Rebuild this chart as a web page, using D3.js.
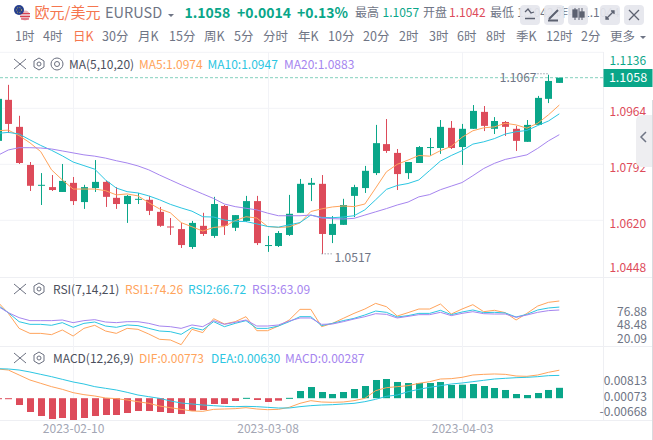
<!DOCTYPE html>
<html>
<head>
<meta charset="utf-8">
<script src="https://cdn.jsdelivr.net/npm/d3@7/dist/d3.min.js"></script>
<style>
  html, body { margin: 0; padding: 0; background: #fff; overflow: hidden; }
  text { font-family: "Noto Sans CJK SC", "Noto Sans", sans-serif; }
</style>
</head>
<body>
<div id="chart"></div>
<script>
// Daily EURUSD candles, first one is cut off by the left edge
const opens = [1.0864,1.0990,1.0907,1.0790,1.0729,1.0722,1.0707,1.0735,1.0676,1.0719,1.0738,1.0689,1.0670,1.0686,1.0683,1.0646,1.0601,1.0593,1.0538,1.0603,1.0572,1.0664,1.0597,1.0618,1.0679,1.0544,1.0541,1.0575,1.0643,1.0729,1.0732,1.0575,1.0606,1.0695,1.0719,1.0765,1.0854,1.0827,1.0765,1.0796,1.0845,1.0842,1.0904,1.0845,1.0901,1.0953,1.0901,1.0922,1.0901,1.0861,1.0913,1.0993,1.1042];
const highs = [1.0993,1.1036,1.0941,1.0799,1.0765,1.0759,1.0793,1.0753,1.0729,1.0805,1.0741,1.0722,1.0698,1.0704,1.0695,1.0661,1.0627,1.0612,1.0618,1.0643,1.0692,1.0667,1.0636,1.0695,1.0695,1.0572,1.0587,1.0698,1.0747,1.0750,1.0759,1.0633,1.0686,1.0729,1.0787,1.0913,1.0931,1.0839,1.0799,1.0848,1.0873,1.0928,1.0925,1.0916,1.0974,1.0971,1.0937,1.0925,1.0910,1.0928,1.1002,1.1067,1.1058];
const lows = [1.0864,1.0888,1.0793,1.0710,1.0667,1.0710,1.0707,1.0667,1.0655,1.0707,1.0661,1.0655,1.0612,1.0670,1.0636,1.0600,1.0575,1.0535,1.0532,1.0572,1.0566,1.0575,1.0587,1.0615,1.0544,1.0523,1.0538,1.0572,1.0643,1.0679,1.0517,1.0550,1.0606,1.0630,1.0704,1.0759,1.0827,1.0713,1.0747,1.0796,1.0818,1.0824,1.0839,1.0790,1.0901,1.0894,1.0885,1.0879,1.0833,1.0861,1.0913,1.0980,1.1042];
const closes = [1.0993,1.0916,1.0796,1.0726,1.0729,1.0713,1.0741,1.0679,1.0722,1.0738,1.0692,1.0670,1.0695,1.0686,1.0649,1.0603,1.0600,1.0544,1.0612,1.0578,1.0670,1.0603,1.0636,1.0679,1.0550,1.0544,1.0581,1.0640,1.0732,1.0735,1.0578,1.0609,1.0667,1.0722,1.0772,1.0857,1.0833,1.0762,1.0799,1.0845,1.0845,1.0907,1.0842,1.0901,1.0956,1.0910,1.0925,1.0907,1.0864,1.0913,1.0996,1.1048,1.1058];

const ma5 = [1.0895,1.0897,1.0880,1.0858,1.0831,1.0775,1.0744,1.0716,1.0716,1.0716,1.0711,1.0698,1.0701,1.0695,1.0674,1.0655,1.0643,1.0613,1.0600,1.0587,1.0598,1.0601,1.0619,1.0631,1.0627,1.0601,1.0598,1.0600,1.0612,1.0647,1.0655,1.0661,1.0664,1.0662,1.0670,1.0719,1.0769,1.0792,1.0805,1.0819,1.0817,1.0834,1.0847,1.0875,1.0895,1.0904,1.0907,1.0918,1.0913,1.0903,1.0918,1.0944,1.0974];
const ma10 = [1.0887,1.0890,1.0885,1.0867,1.0850,1.0835,1.0818,1.0799,1.0788,1.0777,1.0744,1.0719,1.0708,1.0704,1.0695,1.0683,1.0669,1.0658,1.0648,1.0631,1.0630,1.0621,1.0617,1.0616,1.0609,1.0601,1.0599,1.0606,1.0613,1.0636,1.0629,1.0628,1.0630,1.0634,1.0652,1.0683,1.0715,1.0727,1.0733,1.0744,1.0773,1.0802,1.0819,1.0834,1.0854,1.0861,1.0871,1.0885,1.0892,1.0896,1.0911,1.0925,1.0947];
const ma20 = [1.0819,1.0836,1.0843,1.0843,1.0842,1.0839,1.0833,1.0827,1.0821,1.0817,1.0811,1.0803,1.0796,1.0787,1.0775,1.0759,1.0744,1.0729,1.0715,1.0701,1.0687,1.0670,1.0662,1.0657,1.0652,1.0642,1.0634,1.0634,1.0634,1.0636,1.0627,1.0625,1.0624,1.0626,1.0636,1.0646,1.0656,1.0667,1.0676,1.0692,1.0699,1.0714,1.0725,1.0736,1.0757,1.0779,1.0795,1.0807,1.0814,1.0821,1.0841,1.0864,1.0883];

const rsi1 = [73.4,59.0,40.3,34.1,34.1,32.5,38.3,30.8,40.3,44.1,37.0,34.1,40.3,39.1,33.3,26.7,25.9,20.1,39.1,35.0,52.3,45.7,48.6,54.8,37.4,37.4,43.2,50.7,63.9,63.9,42.4,46.5,52.7,58.9,64.3,71.3,67.2,55.6,59.8,64.3,64.3,70.5,58.1,64.3,69.7,61.0,62.7,59.8,50.7,58.9,68.0,72.6,74.26];
const rsi2 = [69.3,59.8,48.6,45.3,45.3,44.1,47.4,41.6,46.5,48.2,43.2,41.6,44.5,43.7,40.3,37.0,36.2,32.9,41.2,38.3,48.6,42.4,46.5,49.9,40.3,40.3,43.2,48.6,54.8,54.8,43.7,46.5,49.9,52.7,56.9,61.8,60.2,54.4,56.1,58.9,58.9,62.7,57.3,60.6,63.1,59.8,60.2,59.4,54.4,57.7,63.1,65.6,66.72];
const rsi3 = [68.0,59.8,53.6,49.9,49.9,49.9,50.7,47.4,49.9,51.1,48.2,47.4,48.6,48.6,46.5,43.2,42.4,40.3,44.5,42.4,49.9,45.3,47.8,50.7,43.2,43.2,44.5,49.4,53.2,53.2,45.3,45.7,48.6,51.9,54.8,58.5,57.7,53.2,55.2,57.3,57.3,60.2,56.1,58.9,61.0,58.5,58.1,58.1,54.0,56.9,60.2,62.3,63.09];

const dif = [0.00807,0.00779,0.00641,0.00503,0.00411,0.00319,0.00245,0.00153,0.00098,0.00061,0.00006,-0.00013,-0.00050,-0.00096,-0.00142,-0.00216,-0.00262,-0.00308,-0.00354,-0.00363,-0.00308,-0.00298,-0.00289,-0.00262,-0.00298,-0.00317,-0.00308,-0.00252,-0.00142,-0.00068,-0.00105,-0.00114,-0.00105,-0.00068,-0.00004,0.00208,0.00291,0.00319,0.00346,0.00411,0.00457,0.00530,0.00540,0.00577,0.00641,0.00659,0.00669,0.00659,0.00613,0.00604,0.00641,0.00715,0.00773];
const dea = [0.00816,0.00807,0.00779,0.00724,0.00659,0.00595,0.00521,0.00448,0.00392,0.00319,0.00273,0.00227,0.00162,0.00088,0.00042,-0.00004,-0.00077,-0.00133,-0.00160,-0.00188,-0.00206,-0.00225,-0.00234,-0.00225,-0.00234,-0.00252,-0.00271,-0.00271,-0.00234,-0.00206,-0.00188,-0.00179,-0.00160,-0.00142,-0.00096,-0.00031,0.00052,0.00088,0.00180,0.00245,0.00300,0.00346,0.00392,0.00420,0.00457,0.00494,0.00530,0.00549,0.00567,0.00577,0.00595,0.00623,0.00630];
const macd = [-0.00010,-0.00013,-0.00188,-0.00381,-0.00492,-0.00575,-0.00547,-0.00602,-0.00547,-0.00492,-0.00464,-0.00464,-0.00409,-0.00354,-0.00354,-0.00381,-0.00409,-0.00437,-0.00354,-0.00326,-0.00160,-0.00160,-0.00077,0.00010,-0.00050,-0.00105,-0.00068,0.00010,0.00199,0.00309,0.00171,0.00116,0.00171,0.00254,0.00337,0.00503,0.00530,0.00448,0.00420,0.00420,0.00420,0.00448,0.00365,0.00374,0.00392,0.00337,0.00282,0.00227,0.00116,0.00088,0.00144,0.00227,0.00287];

// Axis labels
const priceTicks = [1.1136, 1.0964, 1.0792, 1.0620, 1.0448];
const xTicks = [7, 25, 43];
const xTickLabels = ["2023-02-10", "2023-03-08", "2023-04-03"];
const rsiLabels = ["76.88", "48.48", "20.09"];
const macdLabels = ["0.00813", "0.00073", "-0.00668"];
const tabs = ["1时","4时","日K","30分","月K","15分","周K","5分","分时","年K","10分","20分","2时","3时","6时","8时","季K","12时","2分","更多"];
const tabX = [15,43,73,102,138,169,204,234,263,298,328,363,399,429,457,486,516,546,581,610];

const lastPrice = 1.1058, highestPrice = 1.1067, lowestPrice = 1.0517;

const width = 653, height = 440;
const red = "#dd4b5a", green = "#0aa689", orange = "#ffa45c", cyan = "#2cc6e2", purple = "#a685ef";
const grey = "#6f7585", gridColor = "#f2f3f7";
const axisRight = 603.5;

const svg = d3.select("#chart").append("svg")
    .attr("width", width)
    .attr("height", height)
    .style("display", "block");

// Scales
const x = d3.scaleLinear().domain([0, 52]).range([-2.5, 559.3]);
const yPrice = d3.scaleLinear().domain([1.1136, 1.0448]).range([52.3, 276.3]);
const yRsi = d3.scaleLinear().domain([100, 0]).range([280.26, 360.84]);
const yMacd = d3.scaleLinear().domain([0.008, -0.008]).range([369.24, 427.16]);

const idx = d3.range(opens.length);

// Grid
const grid = svg.append("g").attr("stroke", gridColor).attr("fill", "none");
priceTicks.slice(0, 4).forEach(p => {
    grid.append("line").attr("x1", 0).attr("x2", axisRight).attr("y1", yPrice(p)).attr("y2", yPrice(p));
});
[277.5, 346.5, 420.5].forEach(y => {
    grid.append("line").attr("x1", 0).attr("x2", 653).attr("y1", y).attr("y2", y).attr("stroke", "#eeeff3");
});
xTicks.forEach(t => {
    const px = Math.round(x(t)) + 0.5;
    grid.append("line").attr("x1", px).attr("x2", px).attr("y1", 52).attr("y2", 420);
});
svg.append("line").attr("x1", axisRight).attr("x2", axisRight).attr("y1", 52).attr("y2", 420).attr("stroke", "#eeeff3");
svg.append("line").attr("x1", 652.5).attr("x2", 652.5).attr("y1", 100).attr("y2", 440).attr("stroke", "#d9dade");

// Last price dashed line
svg.append("line")
    .attr("x1", 0).attr("x2", axisRight)
    .attr("y1", yPrice(lastPrice)).attr("y2", yPrice(lastPrice))
    .attr("stroke", "#84d0bd")
    .attr("stroke-dasharray", "3,2");

// Candles
const candles = svg.append("g").selectAll("g").data(idx).enter().append("g");
candles.append("line")
    .attr("x1", i => Math.round(x(i)) + 0.5)
    .attr("x2", i => Math.round(x(i)) + 0.5)
    .attr("y1", i => yPrice(highs[i]))
    .attr("y2", i => yPrice(lows[i]))
    .attr("stroke", i => closes[i] >= opens[i] ? green : red);
candles.append("rect")
    .attr("x", i => Math.round(x(i)) - 3)
    .attr("width", 7)
    .attr("y", i => yPrice(Math.max(opens[i], closes[i])))
    .attr("height", i => Math.max(1, Math.abs(yPrice(opens[i]) - yPrice(closes[i]))))
    .attr("fill", i => closes[i] >= opens[i] ? green : red);

function drawLine(values, yScale, color) {
    const line = d3.line().x((d, i) => x(i)).y(d => yScale(d));
    svg.append("path")
        .attr("d", line(values))
        .attr("fill", "none")
        .attr("stroke", color)
        .attr("stroke-width", 1);
}

// MA lines
drawLine(ma5, yPrice, orange);
drawLine(ma10, yPrice, cyan);
drawLine(ma20, yPrice, purple);

// RSI
drawLine(rsi1, yRsi, orange);
drawLine(rsi2, yRsi, cyan);
drawLine(rsi3, yRsi, purple);

// MACD bars, near zero ones come out as little dashes
svg.append("g").selectAll("rect").data(idx).enter().append("rect")
    .attr("x", i => Math.round(x(i)) - 3)
    .attr("width", 7)
    .attr("y", i => Math.min(yMacd(macd[i]), yMacd(0)))
    .attr("height", i => Math.max(1, Math.abs(yMacd(macd[i]) - yMacd(0))))
    .attr("fill", i => macd[i] >= 0 ? green : red);
drawLine(dif, yMacd, orange);
drawLine(dea, yMacd, cyan);

// Highest and lowest markers
function extremeLabel(i, price, text, dy) {
    const px = x(i), py = yPrice(price) + dy;
    const toLeft = i > 40;
    svg.append("line")
        .attr("x1", px + (toLeft ? -11 : 0)).attr("x2", px + (toLeft ? 0 : 11))
        .attr("y1", py).attr("y2", py)
        .attr("stroke", grey).attr("stroke-dasharray", "1,2");
    svg.append("text")
        .attr("x", px + (toLeft ? -12 : 13))
        .attr("y", py + 8)
        .attr("text-anchor", toLeft ? "end" : "start")
        .attr("font-size", 12)
        .attr("fill", grey)
        .text(text);
}
extremeLabel(51, highestPrice, highestPrice.toFixed(4), -1);
extremeLabel(30, lowestPrice, lowestPrice.toFixed(4), 0);

// Price axis, labels sit a bit off the grid lines like the original
const priceNudge = [8, 3, 3, 3.5, -9];
const priceAxis = svg.append("g")
    .attr("transform", `translate(${axisRight + 6},0)`)
    .call(d3.axisRight(yPrice).tickValues(priceTicks).tickSize(0).tickPadding(0).tickFormat(d3.format(".4f")));
priceAxis.select(".domain").remove();
priceAxis.selectAll("text")
    .attr("dy", (d, i) => priceNudge[i] + 4)
    .attr("font-size", 12)
    .attr("font-family", '"Noto Sans CJK SC"')
    .attr("fill", d => d > lastPrice ? green : red);

// Last price box
svg.append("rect").attr("x", axisRight).attr("y", 69).attr("width", 49).attr("height", 18).attr("fill", green);
svg.append("text").attr("x", 628).attr("y", yPrice(lastPrice) + 4.5).attr("text-anchor", "middle")
    .attr("font-size", 12.5).attr("fill", "#fff").text(lastPrice.toFixed(4));

// RSI and MACD axis labels
const labelY = { rsi: [316, 329, 343], macd: [385, 400.5, 416] };
rsiLabels.forEach((t, i) => {
    svg.append("text").attr("x", 647).attr("y", labelY.rsi[i]).attr("text-anchor", "end")
        .attr("font-size", 12).attr("fill", grey).text(t);
});
macdLabels.forEach((t, i) => {
    svg.append("text").attr("x", 647).attr("y", labelY.macd[i]).attr("text-anchor", "end")
        .attr("font-size", 12).attr("fill", grey).text(t);
});

// X axis
const xAxis = svg.append("g")
    .attr("transform", "translate(0,424)")
    .call(d3.axisBottom(x).tickValues(xTicks).tickSize(0).tickPadding(0).tickFormat((d, i) => xTickLabels[i]));
xAxis.select(".domain").remove();
xAxis.selectAll("text")
    .attr("font-size", 12)
    .attr("font-family", '"Noto Sans CJK SC"')
    .attr("fill", "#a3a6b4");

// Side handle
svg.append("path")
    .attr("d", "M652,115 H642 Q636,115 636,121 V162 Q636,165 641,167 H652 Z")
    .attr("fill", "#eeeef1");
svg.append("path")
    .attr("d", "M646,132 L641,137 L646,142")
    .attr("fill", "none").attr("stroke", "#6f7585").attr("stroke-width", 1.5);

// Helpers for the legend rows
function addText(x0, y0, text, color, size, weight) {
    return svg.append("text")
        .attr("x", x0).attr("y", y0)
        .attr("font-size", size)
        .attr("font-weight", weight || 400)
        .attr("fill", color)
        .text(text);
}
function legendIcons(y0, withEye) {
    const g = svg.append("g").attr("fill", "none").attr("stroke", "#6b7080");
    g.append("path").attr("d", `M14,${y0 - 5} L26,${y0 + 5} M26,${y0 - 5} L14,${y0 + 5}`);
    const cx = 39;
    g.append("path").attr("d", `M${cx},${y0 - 6} L${cx + 5},${y0 - 3} V${y0 + 3} L${cx},${y0 + 6} L${cx - 5},${y0 + 3} V${y0 - 3} Z`);
    g.append("circle").attr("cx", cx).attr("cy", y0).attr("r", 2);
    if (withEye) {
        g.append("circle").attr("cx", 57).attr("cy", y0).attr("r", 6);
        g.append("circle").attr("cx", 57).attr("cy", y0).attr("r", 2.5);
    }
}

// Legend rows
legendIcons(64, true);
addText(69, 68.5, "MA(5,10,20)", "#4b4f5c", 12);
addText(139, 68.5, "MA5:1.0974", orange, 12);
addText(207.5, 68.5, "MA10:1.0947", cyan, 12);
addText(284, 68.5, "MA20:1.0883", purple, 12);

legendIcons(289, false);
addText(53, 293.5, "RSI(7,14,21)", "#4b4f5c", 12);
addText(125, 293.5, "RSI1:74.26", orange, 12);
addText(188, 293.5, "RSI2:66.72", cyan, 12);
addText(252, 293.5, "RSI3:63.09", purple, 12);

legendIcons(358, false);
addText(53, 362.5, "MACD(12,26,9)", "#4b4f5c", 12);
addText(139, 362.5, "DIF:0.00773", orange, 12);
addText(211, 362.5, "DEA:0.00630", cyan, 12);
addText(285, 362.5, "MACD:0.00287", purple, 12);

// Tabs
tabs.forEach((t, i) => {
    addText(tabX[i], 41, t, t === "日K" ? "#f5764f" : "#6f7585", 12.5);
});
svg.append("path").attr("d", "M640,36 h6 l-3,3 Z").attr("fill", "#6f7585");

// Header
const flag = svg.append("g");
flag.append("circle").attr("cx", 25).attr("cy", 15.5).attr("r", 5).attr("fill", "#e9b8bf");
flag.append("path").attr("d", "M20,13.5 h10 M20,16.5 h10 M21,19 h8").attr("stroke", "#d8404f").attr("stroke-width", 1.2);
flag.append("circle").attr("cx", 19).attr("cy", 10).attr("r", 5).attr("fill", "#27408f");
flag.append("circle").attr("cx", 19).attr("cy", 10).attr("r", 2.6).attr("fill", "none").attr("stroke", "#c9b84a").attr("stroke-dasharray", "1,1.5");

addText(34.5, 17.5, "欧元/美元", "#f5764f", 15);
addText(105, 17.5, "EURUSD", "#6f7585", 14.5);
svg.append("path").attr("d", "M168,14 h6 l-3,3 Z").attr("fill", "#6f7585");
addText(184.5, 17.5, "1.1058", green, 14, 700);
addText(237, 17.5, "+0.0014", green, 14, 700);
addText(297, 17.5, "+0.13%", green, 14, 700);
addText(355, 16.5, "最高", grey, 12);
addText(382.5, 16.5, "1.1057", green, 12);
addText(423, 16.5, "开盘", grey, 12);
addText(449, 16.5, "1.1042", red, 12);
addText(490, 16.5, "最低", grey, 12);
addText(517, 16.5, "1.1042", grey, 12);
addText(556, 16.5, "昨收", grey, 12);
addText(583, 16.5, "1.1044", grey, 12);

// Toolbar buttons over the header
[520, 544, 568, 600, 624].forEach(bx => {
    svg.append("rect").attr("x", bx).attr("y", 5).attr("width", 20).attr("height", 20).attr("rx", 4)
        .attr("fill", "#e5e6ed").attr("fill-opacity", 0.93);
});
const tool = svg.append("g").attr("fill", "none").attr("stroke", "#5c6170").attr("stroke-width", 1.3);
tool.append("path").attr("d", "M525,12 L528,9 L531,13 L534,12 M525,18.5 H535");
tool.append("path").attr("d", "M549,19 L558,10 M548,20.5 H558").attr("stroke-width", 2);
tool.append("path").attr("d", "M575,8 V20 M579,8 V20 M582,8 V20").attr("stroke-width", 1);
tool.append("rect").attr("x", 573).attr("y", 10).attr("width", 4).attr("height", 7).attr("fill", "#5c6170");
tool.append("rect").attr("x", 580).attr("y", 12).attr("width", 4).attr("height", 5).attr("fill", "#5c6170");
tool.append("path").attr("d", "M606,19 L614,11 M611,11 H614 V14 M606,16 V19 H609");
tool.append("path").attr("d", "M629,10 L639,20 M639,10 L629,20");
</script>
</body>
</html>
